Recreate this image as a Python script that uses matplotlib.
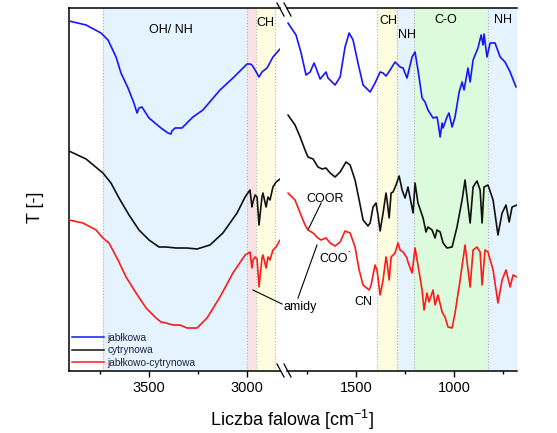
import matplotlib
matplotlib.use("Agg")
import matplotlib.pyplot as plt
from matplotlib.lines import Line2D

plt.rcParams['font.family'] = ['Liberation Sans', 'DejaVu Sans']
plt.rcParams['mathtext.fontset'] = 'custom'
plt.rcParams['mathtext.rm'] = 'Liberation Sans'
plt.rcParams['mathtext.default'] = 'regular'

# --- data (wavenumber [cm-1], T offset in a.u.) ---
# high wavenumber region (left panel)
wn_hi_jab = [3908, 3821, 3745, 3709, 3668, 3643, 3607, 3577, 3561, 3551, 3536, 3500,
             3439, 3403, 3388, 3383, 3367, 3332, 3276, 3225, 3138, 3072, 3000, 2985,
             2975, 2959, 2939, 2924, 2898, 2868, 2832]
T_hi_jab = [350, 346, 338, 331, 314, 298, 283, 268, 258, 263, 264, 253,
            243, 238, 237, 240, 243, 243, 254, 261, 281, 293, 307, 307,
            306, 301, 294, 299, 303, 314, 322]

wn_hi_cyt = [3908, 3821, 3735, 3694, 3653, 3602, 3551, 3500, 3449, 3413, 3362, 3306,
             3255, 3189, 3123, 3051, 3010, 2985, 2975, 2970, 2959, 2949, 2939, 2924,
             2919, 2903, 2893, 2883, 2868, 2852, 2832]
T_hi_cyt = [220, 212, 198, 188, 173, 156, 141, 131, 124, 124, 123, 123,
            122, 126, 138, 158, 174, 181, 164, 169, 176, 174, 146, 174,
            178, 164, 174, 171, 184, 189, 192]

wn_hi_mix = [3908, 3837, 3770, 3735, 3704, 3658, 3617, 3566, 3515, 3464, 3439, 3413,
             3378, 3342, 3306, 3255, 3204, 3138, 3072, 3010, 2985, 2975, 2970, 2959,
             2949, 2939, 2924, 2919, 2903, 2893, 2883, 2868, 2852, 2832]
T_hi_mix = [151, 148, 141, 133, 128, 111, 94, 78, 63, 53, 49, 48,
            46, 46, 43, 43, 53, 74, 98, 116, 119, 103, 111, 114,
            112, 84, 113, 116, 103, 114, 111, 121, 124, 131]

# fingerprint region (right panel)
wn_lo_jab = [1847, 1806, 1780, 1755, 1734, 1714, 1704, 1683, 1653, 1643, 1607, 1581,
             1556, 1535, 1515, 1490, 1464, 1428, 1403, 1377, 1362, 1347, 1326, 1301,
             1275, 1260, 1240, 1214, 1199, 1184, 1163, 1148, 1133, 1107, 1087, 1082,
             1071, 1061, 1056, 1036, 1026, 1010, 995, 974, 959, 949, 929, 918,
             903, 878, 862, 852, 847, 832, 816, 791, 765, 740, 714, 684]
T_lo_jab = [348, 336, 318, 296, 299, 308, 303, 292, 299, 293, 286, 294,
            324, 338, 331, 308, 286, 279, 288, 299, 298, 295, 301, 309,
            304, 303, 293, 314, 319, 301, 273, 269, 261, 253, 254, 249,
            234, 248, 243, 254, 258, 244, 254, 279, 289, 281, 303, 289,
            311, 323, 336, 326, 337, 314, 328, 328, 314, 309, 299, 284]

wn_lo_cyt = [1847, 1811, 1785, 1760, 1745, 1719, 1694, 1673, 1653, 1632, 1607, 1581,
             1551, 1530, 1505, 1484, 1464, 1439, 1428, 1413, 1398, 1388, 1377, 1362,
             1347, 1342, 1331, 1321, 1311, 1296, 1280, 1265, 1250, 1235, 1209, 1199,
             1184, 1158, 1143, 1133, 1112, 1097, 1087, 1071, 1056, 1036, 1010, 985,
             959, 944, 918, 903, 883, 867, 857, 847, 827, 801, 776, 755,
             735, 719, 704, 679]
T_lo_cyt = [256, 246, 234, 221, 214, 212, 204, 202, 203, 198, 194, 199,
            209, 206, 191, 171, 151, 145, 148, 164, 168, 156, 140, 158,
            178, 171, 153, 178, 179, 186, 195, 181, 173, 184, 158, 188,
            168, 153, 139, 144, 141, 133, 141, 139, 128, 123, 124, 144,
            171, 191, 148, 184, 190, 181, 148, 184, 186, 171, 136, 158,
            166, 149, 164, 166]

wn_lo_mix = [1847, 1811, 1785, 1760, 1745, 1719, 1694, 1678, 1653, 1632, 1607, 1581,
             1556, 1530, 1505, 1484, 1464, 1433, 1423, 1403, 1393, 1377, 1362, 1347,
             1342, 1331, 1321, 1301, 1286, 1275, 1260, 1240, 1235, 1214, 1199, 1184,
             1163, 1153, 1138, 1128, 1107, 1097, 1082, 1061, 1046, 1031, 1010, 995,
             969, 944, 918, 903, 883, 867, 857, 842, 827, 801, 776, 755,
             735, 714, 699, 679]
T_lo_mix = [178, 171, 158, 146, 141, 138, 133, 131, 133, 128, 125, 129,
            140, 138, 124, 101, 86, 81, 86, 106, 101, 76, 91, 114,
            109, 91, 114, 118, 128, 121, 119, 113, 109, 98, 123, 106,
            81, 61, 78, 69, 81, 66, 76, 59, 54, 44, 43, 58,
            91, 126, 84, 121, 124, 119, 86, 121, 119, 101, 68, 91,
            101, 84, 96, 94]

labels = ['jabłkowa', 'cytrynowa', 'jabłkowo-cytrynowa']
colors = ['#1515ff', '#111111', '#ff1a1a']

# --- figure with broken x axis ---
W, H = 557, 433
fig = plt.figure(figsize=(W / 100, H / 100), dpi=100)
ax1 = fig.add_axes([69 / W, 62 / H, 211 / W, 363 / H])
ax2 = fig.add_axes([287 / W, 62 / H, 230 / W, 363 / H], sharey=ax1)

ax1.set_xlim(3908, 2832)
ax2.set_xlim(1852, 679)
ax1.set_ylim(0, 363)

blue_b, pink_b, yel_b, green_b = '#e4f3fe', '#fde2e5', '#fefde0', '#dcfadc'
edge_kw = dict(color='#b0b0b0', ls=':', lw=0.8, zorder=1)

for a, b, c in [(3735, 3000, blue_b), (3000, 2952, pink_b), (2952, 2860, yel_b)]:
    ax1.axvspan(a, b, color=c, lw=0, zorder=0)
for x in [3735, 3000, 2952, 2860]:
    ax1.axvline(x, **edge_kw)
for a, b, c in [(1395, 1290, yel_b), (1290, 1205, blue_b), (1205, 828, green_b), (828, 679, blue_b)]:
    ax2.axvspan(a, b, color=c, lw=0, zorder=0)
for x in [1395, 1290, 1205, 828, 680]:
    ax2.axvline(x, **edge_kw)

series_hi = [(wn_hi_jab, T_hi_jab), (wn_hi_cyt, T_hi_cyt), (wn_hi_mix, T_hi_mix)]
series_lo = [(wn_lo_jab, T_lo_jab), (wn_lo_cyt, T_lo_cyt), (wn_lo_mix, T_lo_mix)]
line_kw = dict(lw=1.2, zorder=3, solid_joinstyle='round', solid_capstyle='round')
for (x, y), c in zip(series_hi, colors):
    ax1.plot(x, y, color=c, **line_kw)
for (x, y), c in zip(series_lo, colors):
    ax2.plot(x, y, color=c, **line_kw)

# axes styling
ax1.set_xticks([3500, 3000])
ax1.set_xticks([3750, 3250], minor=True)
ax2.set_xticks([1500, 1000])
ax2.set_xticks([1750, 1250, 750], minor=True)
for a in (ax1, ax2):
    a.tick_params(axis='x', which='major', direction='out', length=4, width=1,
                  labelsize=10.5, top=False)
    a.tick_params(axis='x', which='minor', direction='out', length=2.5, width=1, top=False)
    a.tick_params(axis='y', left=False, right=False, labelleft=False)
    a.spines['right'].set_visible(False)
    for s in a.spines.values():
        s.set_linewidth(1.1)
ax2.spines['left'].set_visible(False)

# band labels
tk = dict(fontsize=9, ha='center', va='center', zorder=4)
ax1.text(3390, 341, 'OH/ NH', **tk)
ax1.text(2905, 348, 'CH', **tk)
ax2.text(1336, 350, 'CH', **tk)
ax2.text(1240, 336, 'NH', **tk)
ax2.text(1041, 351, 'C-O', **tk)
ax2.text(750, 351, 'NH', **tk)

# peak annotations
ax2.text(1658, 172, 'COOR', **tk)
ax2.plot([1678, 1745], [168, 141], color='k', lw=0.8)
ax2.text(1612, 112, 'COO', **tk)
ax2.text(1538, 119, '-', fontsize=6, ha='center', va='center', zorder=4)
ax2.text(1464, 69, 'CN', **tk)
ax2.text(1785, 64, 'amidy', **tk)
ax2.plot([1796, 1699], [73, 126], color='k', lw=0.8)
ax1.plot([2970, 2822], [81, 67], color='k', lw=0.8, clip_on=False)

# legend
handles = [Line2D([], [], color=c, lw=1.1) for c in colors]
ax1.legend(handles, labels, loc='lower left', bbox_to_anchor=(0.0, 0.0),
           frameon=False, fontsize=7.3, handlelength=3.2, handletextpad=0.3,
           labelspacing=0.25, borderpad=0.3, borderaxespad=0.0, labelcolor='#222244')

# break marks
def fx(px):
    return px / W

def fy(py):
    return 1 - py / H

for y0 in (3, 364):
    for x0 in (277, 284):
        fig.add_artist(Line2D([fx(x0), fx(x0 + 7)], [fy(y0), fy(y0 + 13)],
                              color='k', lw=0.9))

fig.text(fx(292), fy(420), 'Liczba falowa [cm$^{-1}$]', fontsize=13,
         ha='center', va='center')
fig.text(fx(35), fy(207), 'T [-]', fontsize=13, rotation=90, ha='center', va='center')

fig.savefig('out.png', dpi=100)
